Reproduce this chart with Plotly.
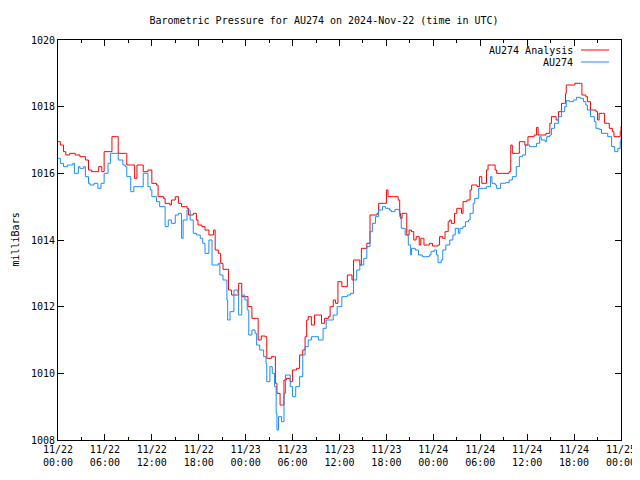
import datetime as dt
import plotly.graph_objects as go

START = dt.datetime(2024, 11, 22, 0, 0)

# hours since 2024-11-22 00:00 UTC and pressure (mb) for the analysis series
analysis_hours = [0, 0.3, 0.7, 1.0, 1.5, 2.2, 2.8, 3.5, 3.9, 4.3, 4.7, 5.2, 5.6, 5.9, 6.4, 6.9, 7.5, 7.7,
                  8.6, 8.8, 9.4, 9.8, 10.1, 10.7, 10.9, 11.5, 12.0, 12.6, 12.8, 13.5, 13.7, 14.3, 14.5,
                  15.0, 15.4, 15.8, 16.5, 16.7, 17.3, 17.7, 17.9, 18.4, 18.8, 19.3, 19.9, 20.1, 20.5,
                  20.8, 21.1, 21.6, 21.8, 22.2, 22.9, 23.1, 23.5, 23.9, 24.3, 24.8, 25.4, 25.6, 26.0,
                  26.5, 26.7, 27.3, 27.7, 27.8, 28.0, 28.4, 28.7, 28.9, 29.2, 29.7, 30.0, 30.5, 30.9,
                  31.3, 31.6, 31.8, 32.0, 32.4, 32.8, 33.3, 33.7, 34.1, 34.6, 34.8, 35.2, 35.5, 35.8,
                  36.3, 36.7, 37.0, 37.6, 37.8, 38.6, 38.8, 39.5, 39.9, 40.8, 41.0, 41.7, 42.0, 42.2,
                  42.9, 43.5, 43.7, 43.8, 44.0, 44.5, 44.6, 44.9, 45.2, 45.5, 45.8, 46.2, 46.4, 46.6,
                  46.8, 47.5, 47.9, 48.6, 48.8, 49.2, 49.5, 49.9, 50.1, 50.3, 50.7, 51.0, 51.6, 51.8,
                  52.3, 52.7, 52.9, 53.3, 53.6, 53.9, 54.2, 54.6, 54.8, 55.0, 55.9, 56.1, 57.7, 57.9,
                  58.1, 58.8, 59.0, 59.7, 60.1, 60.9, 61.2, 61.4, 62.4, 62.9, 63.1, 63.7, 64.0, 64.4,
                  64.8, 64.9, 65.0, 65.9, 66.1, 66.8, 67.0, 67.5, 67.7, 68.1, 68.8, 69.0, 69.2, 69.6,
                  69.9, 70.3, 70.5, 70.9, 71.1, 71.6, 71.9, 72.0]
analysis_mb = [1016.95, 1016.85, 1016.65, 1016.55, 1016.6, 1016.55, 1016.5, 1016.4, 1016.1, 1016.05,
               1016.05, 1016.2, 1016.05, 1016.65, 1016.65, 1017.1, 1017.1, 1016.6, 1016.6, 1016.25,
               1016.25, 1015.85, 1016.25, 1016.25, 1016.05, 1016.1, 1015.7, 1015.65, 1015.3, 1015.25,
               1015.1, 1015.05, 1015.2, 1015.3, 1015.1, 1015.0, 1014.95, 1014.75, 1014.8, 1014.6,
               1014.45, 1014.4, 1014.3, 1014.15, 1014.3, 1013.7, 1013.6, 1013.3, 1013.12, 1013.12,
               1012.5, 1012.35, 1012.35, 1012.7, 1012.3, 1012.3, 1012.0, 1011.65, 1011.65, 1011.0,
               1011.12, 1011.1, 1010.45, 1010.5, 1010.5, 1009.7, 1009.4, 1009.05, 1009.05, 1009.8,
               1009.85, 1009.75, 1010.1, 1010.15, 1010.55, 1010.7, 1011.1, 1011.6, 1011.7, 1011.45,
               1011.75, 1011.75, 1011.5, 1011.65, 1011.7, 1012.0, 1012.2, 1012.1, 1012.75, 1012.6,
               1012.6, 1012.95, 1012.8, 1013.4, 1013.25, 1013.75, 1013.9, 1014.75, 1014.8, 1015.1,
               1015.1, 1015.5, 1015.3, 1015.3, 1015.2, 1014.8, 1014.65, 1014.8, 1014.8, 1014.15,
               1014.3, 1014.25, 1014.0, 1014.1, 1013.85, 1014.05, 1014.05, 1013.85, 1013.9, 1013.82,
               1013.85, 1014.1, 1014.05, 1014.25, 1014.55, 1014.6, 1014.5, 1014.8, 1014.95, 1014.8,
               1015.15, 1015.2, 1015.5, 1015.65, 1015.65, 1015.6, 1015.9, 1015.7, 1015.7, 1016.1,
               1016.25, 1016.1, 1016.0, 1016.05, 1016.85, 1016.6, 1016.6, 1016.95, 1016.85, 1017.1,
               1017.15, 1017.38, 1017.15, 1017.2, 1017.5, 1017.7, 1017.6, 1017.85, 1018.1, 1018.1,
               1018.4, 1018.65, 1018.65, 1018.7, 1018.7, 1018.35, 1018.3, 1018.15, 1017.9, 1017.85,
               1017.6, 1017.8, 1017.8, 1017.5, 1017.5, 1017.35, 1017.25, 1017.1, 1017.1, 1017.25,
               1017.4]

# hours since 2024-11-22 00:00 UTC and pressure (mb) for the observed series
obs_hours = [0, 0.3, 0.7, 1.2, 1.9, 2.1, 2.6, 2.8, 3.3, 3.5, 3.9, 4.1, 4.6, 5.1, 5.5, 5.9, 6.4, 6.7,
             7.2, 7.7, 8.3, 8.6, 8.8, 9.3, 9.7, 10.4, 10.9, 11.5, 11.8, 12.0, 12.6, 13.0, 13.7, 14.1,
             14.5, 15.0, 15.4, 15.8, 16.0, 16.5, 16.9, 17.3, 17.7, 18.2, 18.5, 18.8, 19.3, 19.7, 20.5,
             20.7, 21.1, 21.6, 21.7, 22.0, 22.5, 23.0, 23.1, 23.5, 23.9, 24.2, 24.4, 24.8, 25.2, 25.4,
             25.8, 26.3, 26.6, 26.7, 27.1, 27.4, 27.7, 27.9, 28.0, 28.2, 28.6, 28.9, 29.1, 29.7, 30.0,
             30.4, 30.9, 31.3, 31.6, 32.0, 32.4, 32.8, 33.3, 33.9, 34.3, 34.8, 35.2, 35.7, 36.3, 37.0,
             37.4, 37.8, 38.2, 38.6, 39.1, 39.5, 39.9, 40.2, 40.6, 41.0, 41.5, 41.9, 42.4, 42.6, 43.1,
             43.5, 43.7, 43.9, 44.4, 44.8, 45.1, 45.2, 45.7, 46.1, 46.6, 47.0, 47.5, 47.7, 48.1, 48.4,
             48.6, 49.0, 49.2, 49.6, 50.1, 50.5, 50.8, 51.2, 51.4, 51.8, 52.1, 52.5, 52.7, 53.1, 53.3,
             53.8, 54.4, 54.8, 55.3, 55.5, 55.9, 56.1, 56.6, 57.2, 57.7, 58.1, 58.6, 59.0, 59.4, 59.8,
             60.3, 60.7, 61.2, 61.6, 61.8, 62.3, 62.5, 62.9, 63.1, 63.5, 64.0, 64.4, 64.8, 65.0, 65.4,
             65.9, 66.3, 66.8, 67.2, 67.5, 67.7, 68.1, 68.6, 68.8, 69.2, 69.5, 70.1, 70.3, 70.8, 71.2,
             71.6, 71.9, 72.0]
obs_mb = [1016.45, 1016.3, 1016.2, 1016.25, 1016.3, 1016.0, 1016.2, 1016.15, 1016.2, 1015.9, 1015.7,
          1015.65, 1015.7, 1015.55, 1015.7, 1016.0, 1016.3, 1016.6, 1016.6, 1016.4, 1016.25, 1016.2,
          1015.9, 1015.45, 1015.6, 1015.6, 1016.0, 1015.6, 1015.5, 1015.3, 1015.15, 1015.0, 1014.4,
          1014.6, 1014.5, 1014.75, 1014.8, 1014.05, 1014.6, 1014.9, 1014.6, 1014.2, 1014.15, 1014.05,
          1013.9, 1013.6, 1014.0, 1013.25, 1013.3, 1012.95, 1012.8, 1012.2, 1011.6, 1011.85, 1012.5,
          1012.4, 1011.75, 1012.35, 1012.2, 1011.9, 1011.15, 1011.3, 1011.2, 1010.85, 1010.7, 1010.5,
          1010.3, 1009.75, 1010.2, 1010.0, 1009.6, 1008.8, 1008.3, 1008.7, 1008.55, 1009.4, 1009.95,
          1009.6, 1009.3, 1009.6, 1009.9, 1010.55, 1010.8, 1011.0, 1011.1, 1011.1, 1011.0, 1011.35,
          1011.6, 1011.6, 1011.75, 1012.0, 1012.3, 1012.35, 1012.4, 1012.8, 1013.1, 1013.25, 1013.45,
          1013.8, 1014.25, 1014.5, 1014.7, 1014.9, 1015.0, 1014.95, 1014.9, 1014.85, 1014.92, 1014.9,
          1014.7, 1014.35, 1014.15, 1013.85, 1013.55, 1013.75, 1013.7, 1013.55, 1013.5, 1013.5,
          1013.55, 1013.65, 1013.7, 1013.55, 1013.32, 1013.4, 1013.7, 1013.85, 1014.0, 1014.15,
          1014.35, 1014.2, 1014.35, 1014.4, 1014.55, 1014.6, 1014.8, 1015.1, 1015.25, 1015.55,
          1015.55, 1015.6, 1015.9, 1015.7, 1015.65, 1015.55, 1015.7, 1015.72, 1015.8, 1015.9, 1016.2,
          1016.5, 1016.55, 1016.85, 1016.8, 1016.8, 1016.9, 1017.1, 1017.0, 1016.95, 1017.1, 1017.15,
          1017.35, 1017.5, 1017.7, 1017.85, 1018.0, 1018.18, 1018.15, 1018.2, 1018.28, 1018.25,
          1018.15, 1018.05, 1017.9, 1017.7, 1017.55, 1017.35, 1017.32, 1017.2, 1017.2, 1017.1, 1016.8,
          1016.65, 1016.75, 1016.95, 1017.05]

series_names = ["AU274 Analysis", "AU274"]
series_colors = ["#ff0000", "#1a8cff"]

FONT = "DejaVu Sans Mono"
FS = 10


def to_times(hours):
    return [START + dt.timedelta(hours=h) for h in hours]


fig = go.Figure()
for name, color, hrs, vals in [
    (series_names[0], series_colors[0], analysis_hours, analysis_mb),
    (series_names[1], series_colors[1], obs_hours, obs_mb),
]:
    fig.add_trace(go.Scatter(x=to_times(hrs), y=vals, mode="lines", name=name,
                             line=dict(color=color, width=1, shape="hv"), showlegend=False))

# page has an 8px body margin, so the figure is sized/margined to compensate
OFF = 8
W, H = 640 - OFF, 480 - OFF
PLOT_L, PLOT_R, PLOT_T, PLOT_B = 58, 621, 40, 440   # plot box in page pixels
L = PLOT_L - OFF
T = PLOT_T - OFF
R = W - (PLOT_R - OFF)
B = H - (PLOT_B - OFF)
pw, ph = PLOT_R - PLOT_L, PLOT_B - PLOT_T


def px(xp):
    return (xp - PLOT_L) / pw


def py(yp):
    return (PLOT_B - yp) / ph


# legend drawn gnuplot-style: text, then the line sample to its right
legend_rows = [50, 62]
for name, color, yrow in zip(series_names, series_colors, legend_rows):
    fig.add_annotation(x=px(575), y=py(yrow), xref="paper", yref="paper", text=name,
                       showarrow=False, xanchor="right", yanchor="middle",
                       font=dict(family=FONT, size=FS, color="black"))
    fig.add_shape(type="line", xref="paper", yref="paper", x0=px(581), x1=px(609),
                  y0=py(yrow), y1=py(yrow), line=dict(color=color, width=1))

fig.add_annotation(x=px(OFF), y=0.5, xref="paper", yref="paper", text="milliBars",
                   textangle=-90, showarrow=False, xanchor="left", yanchor="middle",
                   borderpad=0,
                   font=dict(family=FONT, size=FS, color="black"))

fig.update_layout(
    width=W, height=H,
    margin=dict(l=L, r=R, t=T, b=B, autoexpand=False),
    paper_bgcolor="white", plot_bgcolor="white",
    font=dict(family=FONT, size=FS, color="black"),
    title=dict(text="Barometric Pressure for AU274 on 2024-Nov-22 (time in UTC)",
               x=0.5, xanchor="center", y=1 - (20 - OFF) / H, yanchor="middle", yref="container",
               font=dict(family=FONT, size=FS, color="black")),
)
fig.update_xaxes(type="date", range=[START, START + dt.timedelta(hours=72)], automargin=False,
                 dtick=6 * 3600 * 1000, tick0=START, tickformat="%m/%d<br>%H:%M",
                 ticks="inside", ticklen=6, tickcolor="black", showline=True, linecolor="black",
                 linewidth=1, mirror="allticks", showgrid=False, zeroline=False,
                 minor=dict(dtick=3 * 3600 * 1000, ticks="inside", ticklen=3, tickcolor="black"),
                 tickfont=dict(family=FONT, size=FS))
fig.update_yaxes(range=[1008, 1020], dtick=2, tickformat="d", ticks="inside", ticklen=6,
                 automargin=False,
                 tickcolor="black", showline=True, linecolor="black", linewidth=1,
                 mirror="allticks", showgrid=False, zeroline=False,
                 tickfont=dict(family=FONT, size=FS))

fig.write_html("out.html")
